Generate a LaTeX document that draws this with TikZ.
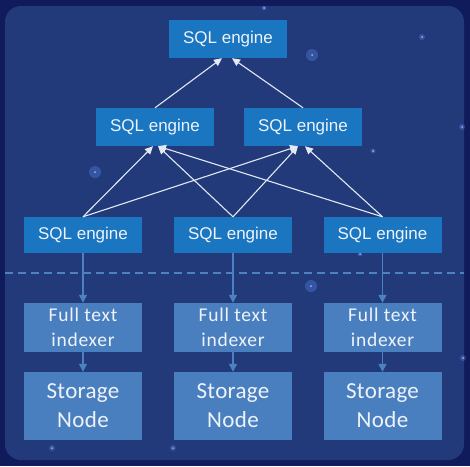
\documentclass[tikz,border=0pt]{standalone}
\usepackage{fontspec}
\setmainfont{Liberation Sans}
\newfontfamily\calfont[LetterSpace=4]{Carlito}
\newfontfamily\calfontb[LetterSpace=1.5]{Carlito}
\usetikzlibrary{arrows.meta}
\definecolor{outerbg}{HTML}{101B5C}
\definecolor{innerbg}{HTML}{22397A}
\definecolor{sqlblue}{HTML}{1A76C0}
\definecolor{idxblue}{HTML}{4A7FBF}
\definecolor{downarrow}{HTML}{4C82C2}
\definecolor{linewhite}{HTML}{E2E9F5}
\definecolor{txtwhite}{HTML}{EEF3FA}
\definecolor{stardot}{HTML}{5A8CF0}
\definecolor{starcore}{HTML}{B8CCFF}
\tikzset{
  sqlbox/.style={fill=sqlblue, minimum width=118pt, inner sep=0pt, text=txtwhite, font=\fontsize{17}{20}\selectfont},
  idxbox/.style={fill=idxblue, minimum width=118pt, inner sep=0pt, text=txtwhite, align=center, font=\calfont\fontsize{19.5}{25}\selectfont},
  stobox/.style={fill=idxblue, minimum width=118pt, minimum height=68pt, inner sep=0pt, text=txtwhite, align=center, font=\calfontb\fontsize{23}{29}\selectfont},
  uparrow/.style={draw=linewhite, line width=1.1pt, -{Triangle[length=8pt,width=7.5pt]}},
  dnarrow/.style={draw=downarrow, line width=1.3pt, -{Triangle[length=8pt,width=8pt]}},
  sepline/.style={draw=downarrow, line width=1.2pt, dash pattern=on 8pt off 5pt},
  starhalo/.style={fill=stardot, opacity=0.35},
  starpt/.style={fill=starcore, opacity=0.8}
}
\begin{document}
\begin{tikzpicture}[x=1pt,y=-1pt]
\useasboundingbox (0,0) rectangle (470,466);
\fill[outerbg] (0,0) rectangle (470,466);
\fill[innerbg, rounded corners=16pt] (5,6) rectangle (464,460);
% stars
\foreach \sx/\sy/\sr in {312/55/6, 422/37/3, 264/8/2.5, 462/127/3, 373/151/2.5, 95/172/6, 360/254/2.5, 311/286/6, 52/448/3, 173/448/3, 463/358/3}{
  \fill[starhalo] (\sx,\sy) circle (\sr);
  \fill[starpt] (\sx,\sy) circle (1);
}
% nodes
\node[sqlbox, minimum height=38pt] (top) at (228,39) {SQL engine};
\node[sqlbox, minimum height=38pt] (mL) at (155,127) {SQL engine};
\node[sqlbox, minimum height=38pt] (mR) at (303,127) {SQL engine};
\node[sqlbox, minimum height=36pt] (eL) at (83,235) {SQL engine};
\node[sqlbox, minimum height=36pt] (eM) at (233,235) {SQL engine};
\node[sqlbox, minimum height=36pt] (eR) at (382.5,235) {SQL engine};
\node[idxbox, minimum height=49pt] (iL) at (83,327.5) {Full text\\indexer};
\node[idxbox, minimum height=49pt] (iM) at (233,327.5) {Full text\\indexer};
\node[idxbox, minimum height=49pt] (iR) at (382.5,327.5) {Full text\\indexer};
\node[stobox] (sL) at (83,406) {Storage\\Node};
\node[stobox] (sM) at (233,406) {Storage\\Node};
\node[stobox] (sR) at (382.5,406) {Storage\\Node};
% separator
\coordinate (dA) at (5,273);
\coordinate (dB) at (464,273);
\draw[sepline] (dA) -- (dB);
% white arrows
\draw[uparrow] (mL.north) -- ([xshift=-6pt]top.south);
\draw[uparrow] (mR.north) -- ([xshift=4pt]top.south);
\draw[uparrow] (eL.north) -- ([xshift=-2pt]mL.south);
\draw[uparrow] (eL.north) -- ([xshift=-5pt]mR.south);
\draw[uparrow] (eM.north) -- ([xshift=3pt]mL.south);
\draw[uparrow] (eM.north) -- ([xshift=-5pt]mR.south);
\draw[uparrow] (eR.north) -- ([xshift=3pt]mL.south);
\draw[uparrow] (eR.north) -- ([xshift=2pt]mR.south);
% down arrows
\foreach \c in {L,M,R} {
  \draw[dnarrow] (e\c.south) -- (i\c.north);
  \draw[dnarrow] (i\c.south) -- (s\c.north);
}
\end{tikzpicture}
\end{document}
